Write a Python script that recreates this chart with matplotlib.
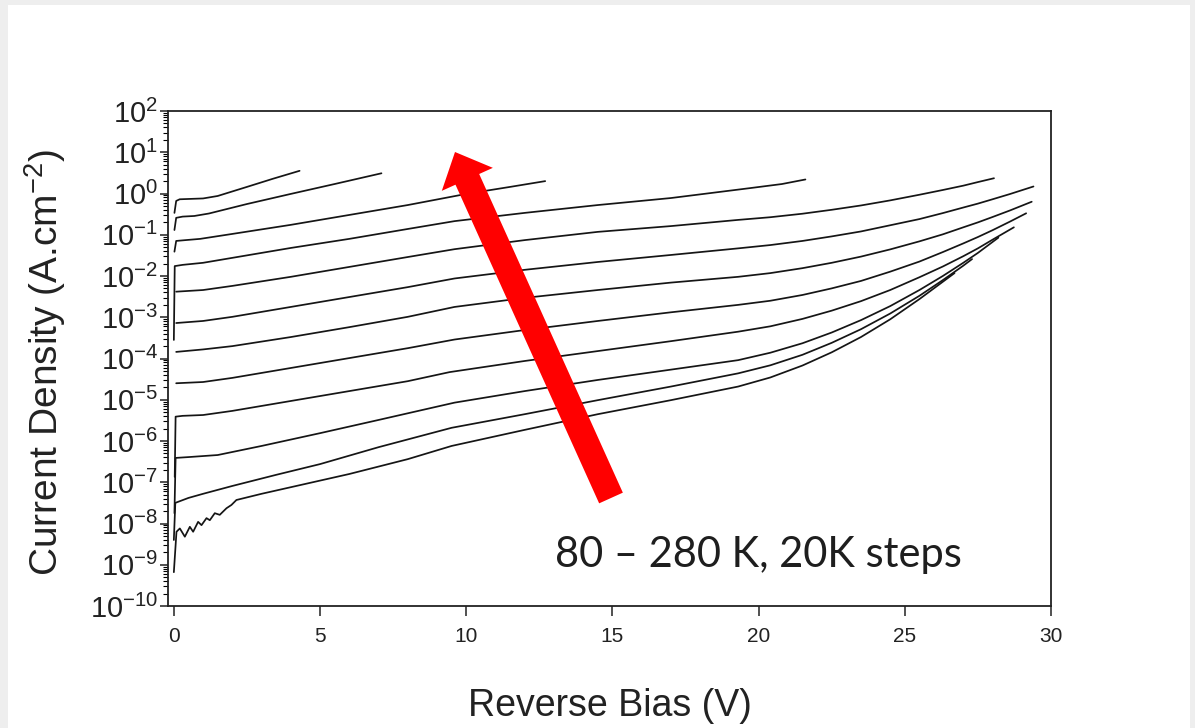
import matplotlib
matplotlib.use("Agg")
import matplotlib.pyplot as plt
import numpy as np
from matplotlib.patches import Polygon, Rectangle
from matplotlib.ticker import LogLocator, LogFormatterMathtext, NullFormatter

plt.rcParams['font.family'] = ['Liberation Sans', 'DejaVu Sans']
plt.rcParams['mathtext.fontset'] = 'custom'
plt.rcParams['mathtext.rm'] = 'Liberation Sans'
plt.rcParams['mathtext.it'] = 'Liberation Sans:italic'
plt.rcParams['mathtext.bf'] = 'Liberation Sans:bold'
plt.rcParams['mathtext.default'] = 'regular'

# ---------------- data (reverse bias in V, log10 of current density in A/cm^2) -------------
V1 = [0.02, 0.08, 0.2, 0.6, 1.0, 1.5, 2.5, 3.4, 4.3]
L1 = [-0.47, -0.18, -0.14, -0.13, -0.12, -0.06, 0.16, 0.36, 0.55]

V2 = [0.02, 0.08, 0.3, 0.7, 1.2, 2.5, 4.0, 5.5, 7.1]
L2 = [-0.885, -0.59, -0.56, -0.545, -0.485, -0.255, -0.01, 0.23, 0.49]

V3 = [0.02, 0.08, 0.4, 0.9, 2, 4, 6, 8, 10, 11.5, 12.7]
L3 = [-1.41, -1.15, -1.13, -1.10, -0.98, -0.76, -0.52, -0.28, -0.01, 0.16, 0.30]

V4 = [0, 0.03, 0.3, 1, 2, 4, 6, 8, 9.6, 12, 14.5, 17, 19.7, 20.8, 21.6]
L4 = [-3.55, -1.76, -1.73, -1.68, -1.56, -1.32, -1.10, -0.86, -0.67, -0.47, -0.28,
      -0.11, 0.13, 0.23, 0.34]

V5 = [0.08, 1, 2, 4, 6, 8, 9.6, 12, 14.5, 17, 19.3, 20.4, 21.5, 22.5, 23.5, 24.5,
      25.5, 26.3, 27.0, 27.5, 28.05]
L5 = [-2.38, -2.34, -2.24, -2.02, -1.78, -1.54, -1.35, -1.13, -0.93, -0.79, -0.64,
      -0.575, -0.49, -0.395, -0.29, -0.167, -0.03, 0.085, 0.19, 0.277, 0.37]

V6 = [0.08, 1, 2, 4, 6, 8, 9.6, 12, 14.5, 17, 19.3, 20.4, 21.5, 22.5, 23.5, 24.5,
      25.5, 26.3, 27, 27.5, 28, 28.6, 29.4]
L6 = [-3.14, -3.09, -2.99, -2.75, -2.51, -2.27, -2.06, -1.85, -1.66, -1.49, -1.33,
      -1.25, -1.15, -1.04, -0.92, -0.77, -0.62, -0.475, -0.34, -0.245, -0.14, -0.012, 0.17]

V7 = [0.08, 1, 2, 4, 6, 8, 9.6, 12, 14.5, 17, 19.3, 20.4, 21.5, 22.5, 23.5, 24.5,
      25.5, 26.3, 27, 27.5, 28, 28.6, 29.34]
L7 = [-3.84, -3.78, -3.70, -3.48, -3.24, -2.99, -2.75, -2.53, -2.34, -2.16, -2.02,
      -1.93, -1.81, -1.68, -1.53, -1.355, -1.16, -0.99, -0.82, -0.70, -0.57, -0.41, -0.20]

V8 = [0.08, 1, 2, 4, 6, 8, 9.6, 12, 14.5, 17, 19.3, 20.4, 21.5, 22.5, 23.5, 24.5,
      25.5, 26.3, 27, 27.5, 28, 28.6, 29.15]
L8 = [-4.60, -4.57, -4.47, -4.23, -3.99, -3.75, -3.54, -3.31, -3.09, -2.88, -2.70,
      -2.60, -2.46, -2.30, -2.12, -1.895, -1.65, -1.42, -1.21, -1.055, -0.89, -0.68, -0.48]

V9 = [0.03, 0.06, 0.3, 1, 2, 4, 6, 8, 9.43, 12, 14.5, 17, 19.3, 20.4, 21.5, 22.5,
      23.5, 24.5, 25.5, 26.3, 27, 27.5, 28, 28.73]
L9 = [-6.87, -5.41, -5.39, -5.37, -5.27, -5.03, -4.79, -4.55, -4.33, -4.06, -3.82,
      -3.58, -3.35, -3.22, -3.04, -2.84, -2.61, -2.34, -2.03, -1.77, -1.52, -1.33,
      -1.12, -0.82]

V10 = [0.02, 0.06, 0.5, 1.5, 3, 5, 7, 9.6, 12, 14.5, 17, 19.3, 20.4, 21.5, 22.5,
       23.5, 24.5, 25.5, 26.3, 27, 27.5, 28.2]
L10 = [-7.75, -6.41, -6.39, -6.34, -6.12, -5.81, -5.49, -5.07, -4.79, -4.52, -4.27,
       -4.04, -3.86, -3.63, -3.37, -3.07, -2.73, -2.34, -2.00, -1.68, -1.44, -1.07]

V11 = [0.0, 0.05, 0.5, 1, 2, 3.5, 5, 7, 9.5, 12, 14.5, 17, 19.3, 20.4, 21.5, 22.5,
       23.5, 24.5, 25.5, 26.3, 27, 27.3]
L11 = [-8.40, -7.50, -7.38, -7.28, -7.09, -6.82, -6.56, -6.15, -5.68, -5.35, -5.01,
       -4.68, -4.36, -4.165, -3.91, -3.62, -3.29, -2.91, -2.48, -2.10, -1.75, -1.59]

V12 = [0.0, 0.09, 0.205, 0.376, 0.547, 0.66, 0.83, 0.946, 1.117, 1.23, 1.40, 1.57,
       1.80, 1.97, 2.14, 3, 4.5, 6, 8, 9.5, 12, 14.5, 17, 19.3, 20.4, 21.5, 22.5,
       23.5, 24.5, 25.5, 26.3, 26.7]
L12 = [-9.18, -8.20, -8.12, -8.32, -8.08, -8.20, -7.96, -8.04, -7.87, -7.92, -7.75,
       -7.79, -7.63, -7.55, -7.43, -7.28, -7.04, -6.80, -6.44, -6.12, -5.73, -5.35,
       -5.01, -4.68, -4.46, -4.17, -3.85, -3.48, -3.05, -2.56, -2.14, -1.93]

curves = [(V1, L1), (V2, L2), (V3, L3), (V4, L4), (V5, L5), (V6, L6),
          (V7, L7), (V8, L8), (V9, L9), (V10, L10), (V11, L11), (V12, L12)]

x_ticks = [0, 5, 10, 15, 20, 25, 30]
annotation = "80 \u2013 280 K, 20K steps"

# ---------------- figure ----------------
W, H = 1195, 728
fig = plt.figure(figsize=(W / 100, H / 100), dpi=100)
fig.patch.set_facecolor('#eeeeee')
fig.add_artist(Rectangle((8 / W, 0), (1190 - 8) / W, (H - 5) / H,
                         transform=fig.transFigure, facecolor='white',
                         edgecolor='none', zorder=0))

left, right, top, bottom = 168, 1051, 111, 606
ax = fig.add_axes([left / W, 1 - bottom / H, (right - left) / W, (bottom - top) / H])
ax.set_facecolor('white')

for v, l in curves:
    ax.plot(v, 10.0 ** np.array(l), color='#151515', lw=1.25,
            solid_joinstyle='round', solid_capstyle='round')

ax.set_yscale('log')
ax.set_ylim(1e-10, 1e2)
ax.set_xlim(-0.2, 30)
ax.set_xticks(x_ticks)
ax.set_xticklabels([str(t) for t in x_ticks])
ax.yaxis.set_major_locator(LogLocator(base=10, numticks=30))
ax.yaxis.set_minor_locator(LogLocator(base=10, subs=np.arange(2, 10), numticks=300))
ax.yaxis.set_major_formatter(LogFormatterMathtext())
ax.yaxis.set_minor_formatter(NullFormatter())

for s in ax.spines.values():
    s.set_linewidth(1.3)
    s.set_color('#222222')

ax.tick_params(axis='y', which='major', direction='out', length=6, width=1.1,
               labelsize=21, pad=1, colors='#222222', right=False)
ax.tick_params(axis='y', which='minor', direction='out', length=3.5, width=0.8,
               right=False)
ax.tick_params(axis='x', which='major', direction='out', length=7, width=1.1,
               labelsize=15, pad=8, colors='#222222', top=False)
ax.tick_params(axis='x', which='minor', bottom=False, top=False)

ax.set_xlabel('Reverse Bias (V)', fontsize=27, color='#222222', va='center')
ax.xaxis.set_label_coords(0.5, (bottom - 706) / (bottom - top))
ax.set_ylabel('Current Density (A.cm$^{-2}$)', fontsize=28, color='#222222',
              va='center')
ax.yaxis.set_label_coords((45 - left) / (right - left), (bottom - 362) / (bottom - top))

# ---------------- red arrow (figure pixel geometry) ----------------
tip = np.array([455.0, 152.0])
tail = np.array([611.0, 498.0])
u = (tip - tail) / np.linalg.norm(tip - tail)
n = np.array([-u[1], u[0]])
shaft_hw, head_hw, head_len = 13.0, 28.0, 30.0
hb = tip - u * head_len
pts = [tail + n * shaft_hw, hb + n * shaft_hw, hb + n * head_hw, tip,
       hb - n * head_hw, hb - n * shaft_hw, tail - n * shaft_hw]
pts = np.array([[p[0] / W, 1 - p[1] / H] for p in pts])
fig.add_artist(Polygon(pts, closed=True, transform=fig.transFigure,
                       facecolor='#ff0000', edgecolor='none', zorder=5))

fig.text(555 / W, 1 - 555 / H, annotation, fontsize=30, family=['Lato', 'DejaVu Sans'],
         color='#1e1e1e', ha='left', va='center', zorder=6)

fig.savefig('out.png', dpi=100, facecolor=fig.get_facecolor())
